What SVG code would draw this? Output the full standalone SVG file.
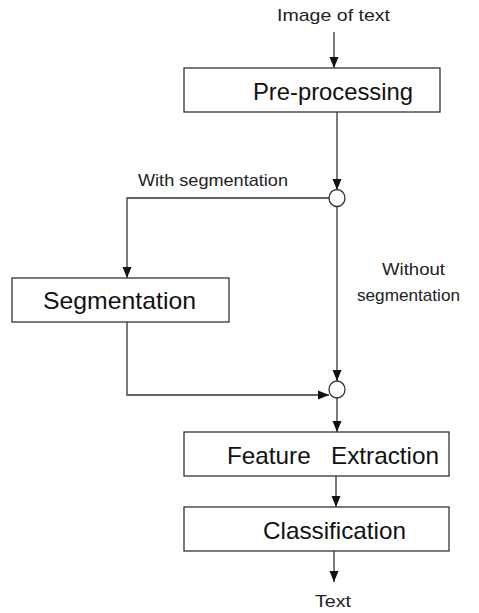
<svg xmlns="http://www.w3.org/2000/svg" width="479" height="613" viewBox="0 0 479 613">
<style>
.box{fill:#fff;stroke:#333;stroke-width:1.3}
.big{font-family:"Liberation Sans",Arial,sans-serif;font-size:24px;fill:#111}
.small{font-family:"Liberation Sans",Arial,sans-serif;font-size:17px;fill:#222}
.ln{fill:none;stroke:#333;stroke-width:1.3}
.jn{fill:#fff;stroke:#333;stroke-width:1.3}
</style>
<defs>
<marker id="ah" markerWidth="12" markerHeight="12" refX="11" refY="6" orient="auto" markerUnits="userSpaceOnUse">
<path d="M0,1.5 L11,6 L0,10.5 Z" fill="#111"/>
</marker>
</defs>
<rect width="479" height="613" fill="#fff"/>
<g id="connectors">
<line class="ln" x1="334" y1="32" x2="334" y2="68" marker-end="url(#ah)"/>
<line class="ln" x1="337" y1="112" x2="337" y2="190" marker-end="url(#ah)"/>
<polyline class="ln" points="329,198 127,198 127,278" marker-end="url(#ah)"/>
<line class="ln" x1="337" y1="207" x2="337" y2="381" marker-end="url(#ah)"/>
<polyline class="ln" points="127,322 127,395 329,395" marker-end="url(#ah)"/>
<line class="ln" x1="337" y1="398" x2="337" y2="432" marker-end="url(#ah)"/>
<line class="ln" x1="336" y1="476" x2="336" y2="507" marker-end="url(#ah)"/>
<line class="ln" x1="334" y1="551" x2="334" y2="582" marker-end="url(#ah)"/>
<text class="small" x="138" y="186" textLength="150" lengthAdjust="spacingAndGlyphs">With segmentation</text>
<text class="small" x="382" y="275" textLength="63" lengthAdjust="spacingAndGlyphs">Without</text>
<text class="small" x="357" y="301" textLength="103" lengthAdjust="spacingAndGlyphs">segmentation</text>
</g>
<g id="input"><text class="small" x="277" y="21" textLength="113" lengthAdjust="spacingAndGlyphs">Image of text</text></g>
<g id="preprocessing">
<rect class="box" x="184" y="68" width="256" height="44"/>
<text class="big" x="253" y="100" textLength="160" lengthAdjust="spacingAndGlyphs">Pre-processing</text>
</g>
<g id="junction1"><ellipse class="jn" cx="337" cy="198" rx="8" ry="8.5"/></g>
<g id="segmentation">
<rect class="box" x="12" y="278" width="217" height="44"/>
<text class="big" x="43" y="309" textLength="153" lengthAdjust="spacingAndGlyphs">Segmentation</text>
</g>
<g id="junction2"><ellipse class="jn" cx="337" cy="389.5" rx="8" ry="8.5"/></g>
<g id="feature">
<rect class="box" x="184" y="432" width="265" height="44"/>
<text class="big" x="227" y="464" textLength="212" lengthAdjust="spacingAndGlyphs" xml:space="preserve">Feature   Extraction</text>
</g>
<g id="classification">
<rect class="box" x="184" y="507" width="265" height="44"/>
<text class="big" x="263" y="539" textLength="143" lengthAdjust="spacingAndGlyphs">Classification</text>
</g>
<g id="output"><text class="small" x="315" y="607" textLength="36" lengthAdjust="spacingAndGlyphs">Text</text></g>
</svg>
